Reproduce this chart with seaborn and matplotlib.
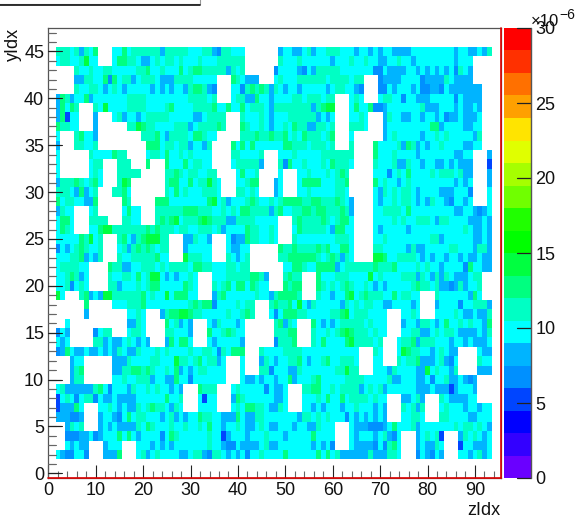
#!/usr/bin/env python3
# 2D occupancy map, z index against y index
import numpy as np
import pandas as pd
import matplotlib
matplotlib.use('Agg')
import matplotlib.pyplot as plt
import seaborn as sns
from matplotlib.colors import ListedColormap
from matplotlib.lines import Line2D
from matplotlib.patches import Rectangle

# colour band of every cell, top row (y=45) first, groups are z=2-11, 12-21 ... 92-93
# '.' is an empty cell
cell_bands = [
    "777675768. ..66867777 7757777766 6775477666 .......566 5567566777 6665665656 6555566666 6666566556 57",
    "677667966. ..68877655 6767767666 7666777777 .......766 6766666656 6676676655 6676656666 66665666.. ..",
    "....766766 7766666778 6676668678 8777775767 ......4666 6546577777 6666666446 5555665656 56564765.. ..",
    "....557766 8486775677 7655577776 6666...876 555...6766 6777777677 77677...45 5556666455 55765555.. ..",
    "....766776 5676566666 5656566578 8754...664 7878757656 6566666567 76654...44 6566656445 5465555555 ..",
    "5875668566 6666677776 6666666677 7767...677 5586656666 776777677. ..676...67 7664665556 6666465555 ..",
    "58687...76 9666677776 6667866667 7778668668 6777657777 777757899. ..68668445 6666666755 5666565565 ..",
    "58366...5. ..67566567 7777666665 567777...7 6667656667 777775656. ..6676...5 7665566566 5645565556 ..",
    "87766...5. .....77987 7666677756 777787...8 7667656676 877557767. ..7776...5 6666666668 8566665566 ..",
    "6...78665. ........77 7865777768 8766.....7 7787787786 768777678. ..6......5 6766666566 7676666657 ..",
    "5...77667. .........8 8867767756 657....868 6866666688 777677767. ..7....866 6675875656 6766665566 ..",
    "6......766 66877....6 7768667676 666....776 6667...666 7666667777 777....866 6766665666 66665566.. .5",
    "6......677 ...777...8 ...8666867 766....677 7775...748 6676667687 776....766 6755766566 55656555.. .3",
    "6......676 ...77777.. ...7787677 6677....68 667....6.. .667666767 87.....666 4676866667 67776755.. .5",
    "5777876786 ...798.... ...7886686 77976...66 788...56.. .688886667 78.....867 6656766666 66665656.. .5",
    "777658567. ..7786.... ...7686766 67776...77 676...56.. .667666667 76.....657 6767765666 65556664.. .6",
    "867766558. ....87.... .888666666 6689675666 7876676788 8877887778 765....656 6767765657 66546656.. .6",
    "5766...67. ....6866.. .777777888 7776676768 8777757866 7788788777 875....667 7776866666 6666556654 56",
    "6886...777 7...7766.. .787896777 8987775577 7766666... 7877778767 886....666 6767667776 5776666555 65",
    "6876...668 9977777778 7877767766 7776756666 8776676... 6877777658 866....656 6666566666 6666667655 65",
    "6666687967 ...7865789 9977...557 665...6455 8776676... 7666666667 776....667 6666666667 7566666655 65",
    "4656787667 ...6757878 7677...566 666...6556 6......877 8777787866 886....776 6666575566 6667766657 75",
    "6667785657 ...7667777 7866...977 766...7656 7......778 8888876787 576....998 6677776565 6656656556 55",
    "6777766... .877556677 7676777768 8776667767 7.......66 8876688885 6777777877 7866667676 6566664866 55",
    "6678756... .766776867 9965656676 ...6667777 78875...78 77...86667 7766669676 6667775765 7576555677 ..",
    "6674676... .775666767 8866666876 ...7678688 68766...87 88...87676 7876676565 6666678776 7554575667 ..",
    "96...78565 9977777786 7669688866 ...5786666 6676657888 87...76656 6896787776 6867766... 7666666586 ..",
    "......8... ..66677786 6666666678 7884666676 77...78778 6965766666 5767677665 5666656... 5666646677 75",
    "......5... .....6676. ..57889987 7666667667 87...64688 8776666677 8967776666 ...6676... 6666765565 57",
    "..6....... .....5576. ...867565. ..65766656 ......7857 6...865656 7777767666 ...5665776 5686676766 58",
    "465.....46 77...6776. ...776665. ..86678766 ......7778 8...766767 8987776766 ...6677556 7677655556 57",
    "656.....77 5655676565 ...586886. ..65666665 ......4777 8...768666 689777767. ..67785777 6665665655 56",
    "4586556556 5657655766 6767666676 6776476888 ...7666677 7766666666 6666...76. ..69877665 67655....6 55",
    "...566.... ..55576666 7766697767 867756...6 ...5765667 7865667866 7776...66. ..76778555 67546....7 66",
    "...578.... ..55778878 7667685656 776666...6 ...7746665 5766666667 7977...666 5766665596 76657....5 55",
    "...577.... ..66766777 5665586646 666666...6 5565665668 5666786666 6777766666 7556665564 667556545. ..",
    "6755555578 6466657667 6766565... 8777...676 666646556. ..77886676 7777567675 6666665556 555356665. ..",
    "3676467746 5565555666 6668667... 6366...587 666666556. ..66676866 8677776766 ...55675.. .76555566. ..",
    "355586...6 6765655767 8776576... 6666...676 887765576. ..66565666 5667666565 ...76757.. .676665665 66",
    "555445...5 6654686776 6656756566 8776655586 5577666666 6577676766 6465656565 ...66776.. .776666556 66",
    "..5767...5 6565555768 7666766766 7686656676 5567655666 566557666. ..65554445 6866675666 6666767767 65",
    "..44455645 6668686566 6646876666 6676635666 5666766656 666686666. ..65666567 546...5676 73...57676 56",
    "..65655... 5666...666 5656566666 6676654465 5556755666 666656564. ..65555464 786...5655 76...36655 56",
    "6544664... 5558...675 6766665567 7547765656 4667666686 6666686867 5555557555 776...4654 65...66567 56",
]
first_z = 2
top_y = 45
n_z = 96
n_y = 48

band_colors = ["#6a00ff", "#3300ff", "#0000ff", "#0045ff", "#0090ff", "#00b4ff", "#00ffff",
               "#00ffc4", "#00ff80", "#00ff40", "#00ff00", "#20ff00", "#70ff00", "#a6ff00",
               "#e0ff00", "#ffe400", "#ffa000", "#ff7000", "#ff3000", "#ff0000"]
band_width = 1.5
z_major = [0, 10, 20, 30, 40, 50, 60, 70, 80, 90]
z_minor = list(range(0, 96, 2))
y_major = [0, 5, 10, 15, 20, 25, 30, 35, 40, 45]
y_minor = list(range(0, 48))
color_ticks = [0, 5, 10, 15, 20, 25, 30]

W, H = 576, 518
font_size = 13

# turn the band letters into a table of values (1e-6 units)
grid = np.full((n_y, n_z), np.nan)
for r, row in enumerate(cell_bands):
    chunks = row.split(' ')
    if [len(c) for c in chunks] != [10] * 9 + [2]:
        print('bad row', r, top_y - r, [len(c) for c in chunks])
    cells = ''.join(chunks)
    for c, ch in enumerate(cells):
        if ch != '.':
            grid[top_y - r, first_z + c] = (int(ch) + 0.5) * band_width
df = pd.DataFrame(grid, index=range(n_y), columns=range(n_z))

sns.set_theme(style='white')
plt.rcParams['font.family'] = ['Liberation Sans', 'DejaVu Sans']

fig = plt.figure(figsize=(W / 100, H / 100), dpi=100)
ax = fig.add_axes([48.4 / W, 1 - 478 / H, (501 - 48.4) / W, 450 / H])
cax = fig.add_axes([504 / W, 1 - 478 / H, 27 / W, 450 / H])

sns.heatmap(df, ax=ax, cbar_ax=cax, cmap=ListedColormap(band_colors), vmin=0, vmax=30,
            xticklabels=False, yticklabels=False, cbar_kws={'ticks': color_ticks})

# heatmap cells sit on 0..n, a bin i covers i..i+1
ax.set_xlim(0.5, n_z)
ax.set_ylim(0, n_y)
ax.set_xticks([z + 0.5 for z in z_major])
ax.set_xticklabels(z_major, rotation=0)
ax.set_yticks([y + 0.5 for y in y_major])
ax.set_yticklabels(y_major, rotation=0)
ax.set_xticks([z + 0.5 for z in z_minor], minor=True)
ax.set_yticks([y + 0.5 for y in y_minor], minor=True)
ax.tick_params(which='major', direction='in', length=9.5, width=0.8, color='#222222',
               labelsize=font_size, labelcolor='#111111', bottom=True, left=True, pad=3)
ax.tick_params(which='minor', direction='in', length=5, width=0.8, color='#666666',
               bottom=True, left=True)
ax.set_xlabel('')
ax.set_ylabel('')
for side in ['top', 'left', 'right', 'bottom']:
    ax.spines[side].set_visible(True)
    ax.spines[side].set_color('#555555')
    ax.spines[side].set_linewidth(0.9)
# red outline of the histogram
ax.axvline(n_z, color='#e00000', lw=1.2, clip_on=False, zorder=5)
ax.axhline(0, color='#e00000', lw=1.2, clip_on=False, zorder=5)

fig.text(500 / W, 1 - 515 / H, 'zIdx', fontsize=font_size, color='#111111', ha='right', va='baseline')
fig.text(13 / W, 1 - 28 / H, 'yIdx', fontsize=font_size, color='#111111', rotation=90,
         ha='center', va='top')

cbar = ax.collections[0].colorbar
cbar.outline.set_visible(False)
cax.tick_params(which='major', length=0, labelsize=font_size, labelcolor='#111111', pad=3)


def fig_line(x0, x1, y0, y1, color, lw):
    # a line in pixels of the picture, on top of every axes
    fig.add_artist(Line2D([x0 / W, x1 / W], [1 - y0 / H, 1 - y1 / H], transform=fig.transFigure,
                          color=color, lw=lw, zorder=10))


# ticks that run over the cells and the colour bands
for value in y_minor:
    py = ax.transData.transform((1, value + 0.5))[1]
    fig_line(48.4, 55.5, H - py, H - py, '#666666', 0.8)
for value in y_major:
    py = ax.transData.transform((1, value + 0.5))[1]
    fig_line(48.4, 62, H - py, H - py, '#222222', 0.8)
for value in color_ticks:
    py = 478 - value / 30 * 450
    fig_line(517, 531, py, py, '#222222', 0.9)
fig_line(531, 531, 28, 478, '#555555', 1.0)

fig.text(531 / W, 1 - 26 / H, '\u00d710', fontsize=12, color='#111111', ha='left', va='baseline')
fig.text(559 / W, 1 - 19 / H, '\u22126', fontsize=10, color='#111111', ha='left', va='baseline')

# title box, cut off by the top of the canvas
fig.add_artist(Rectangle((-5 / W, 1 - 4 / H), 205 / W, 10 / H, transform=fig.transFigure,
                         facecolor='white', edgecolor='#999999', lw=0.8))
fig_line(0, 200, 4.5, 4.5, '#222222', 1.3)

fig.savefig('out.png', dpi=100)
